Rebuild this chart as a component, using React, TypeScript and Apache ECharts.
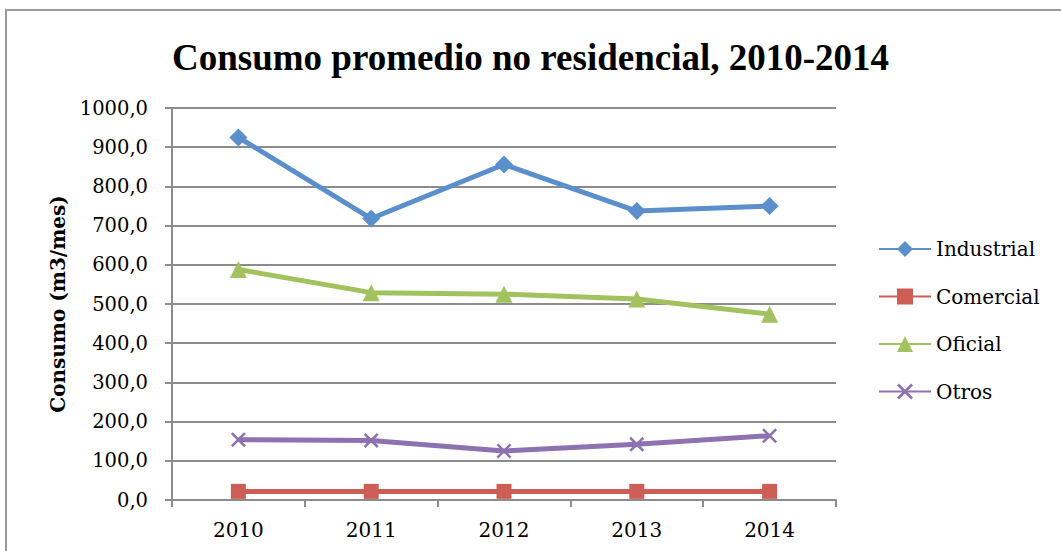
import React, { useEffect, useRef } from "react";
import * as echarts from "echarts";

const years = ["2010", "2011", "2012", "2013", "2014"];
const industrial = [925, 718, 856, 737, 750];
const comercial = [22, 22, 22, 22, 22];
const oficial = [588, 529, 525, 513, 474];
const otros = [154, 152, 125, 142, 164];
const seriesNames = ["Industrial", "Comercial", "Oficial", "Otros"];

const TITLE_FONT = "Liberation Serif";
const FONT = "DejaVu Serif";
const X_PATH =
  "path://M0,1.2 L1.2,0 L5,3.8 L8.8,0 L10,1.2 L6.2,5 L10,8.8 L8.8,10 L5,6.2 L1.2,10 L0,8.8 L3.8,5 Z";

export default function App() {
  const ref = useRef<HTMLDivElement>(null);
  useEffect(() => {
    if (!ref.current) return;
    const chart = echarts.init(ref.current, null, { renderer: "svg" });
    const mk = (name: string, data: number[], color: string, symbol: string, size: number) => ({
      name,
      type: "line",
      data,
      symbol,
      symbolSize: size,
      lineStyle: { color, width: 5 },
      itemStyle: { color },
    });
    chart.setOption({
      animation: false,
      backgroundColor: "#ffffff",
      title: {
        text: "Consumo promedio no residencial, 2010-2014",
        left: "center",
        top: 34,
        textStyle: { fontFamily: TITLE_FONT, fontWeight: "bold", fontSize: 37, color: "#000" },
      },
      graphic: [
        {
          type: "rect",
          shape: { x: 6, y: 10, width: 1200, height: 700 },
          style: { fill: "none", stroke: "#9a9a9a", lineWidth: 2 },
          silent: true,
        },
      ],
      legend: {
        orient: "vertical",
        left: 878,
        top: 239,
        padding: 0,
        itemWidth: 52,
        itemHeight: 20,
        itemGap: 27.5,
        data: seriesNames,
        textStyle: { fontFamily: FONT, fontSize: 20, lineHeight: 20, color: "#000" },
      },
      grid: { left: 172, right: 225, top: 108, bottom: 51 },
      xAxis: {
        type: "category",
        data: years,
        boundaryGap: true,
        axisLine: { lineStyle: { color: "#8c8c8c", width: 2 } },
        axisTick: { show: true, length: 7, lineStyle: { color: "#8c8c8c", width: 2 } },
        axisLabel: { fontFamily: FONT, fontSize: 20, color: "#000", margin: 20 },
      },
      yAxis: {
        type: "value",
        min: 0,
        max: 1000,
        interval: 100,
        name: "Consumo (m3/mes)",
        nameLocation: "middle",
        nameGap: 104,
        nameTextStyle: { fontFamily: FONT, fontWeight: "bold", fontSize: 20, color: "#000" },
        axisLine: { show: true, lineStyle: { color: "#8c8c8c", width: 2 } },
        axisTick: { show: true, length: 7, lineStyle: { color: "#8c8c8c", width: 2 } },
        splitLine: { lineStyle: { color: "#8c8c8c", width: 2 } },
        axisLabel: {
          fontFamily: FONT,
          fontSize: 19.5,
          color: "#000",
          margin: 24,
          formatter: (v: number) => v.toFixed(1).replace(".", ","),
        },
      },
      series: [
        mk("Industrial", industrial, "#5a8fcb", "diamond", 18),
        mk("Comercial", comercial, "#cd5e55", "rect", 15),
        mk("Oficial", oficial, "#a1c25e", "triangle", 17),
        mk("Otros", otros, "#8c72b1", X_PATH, 15),
      ],
    });
    return () => chart.dispose();
  }, []);
  return (
    <div
      ref={ref}
      style={{ position: "fixed", left: 0, top: 0, width: 1061, height: 551, background: "#fff" }}
    />
  );
}
